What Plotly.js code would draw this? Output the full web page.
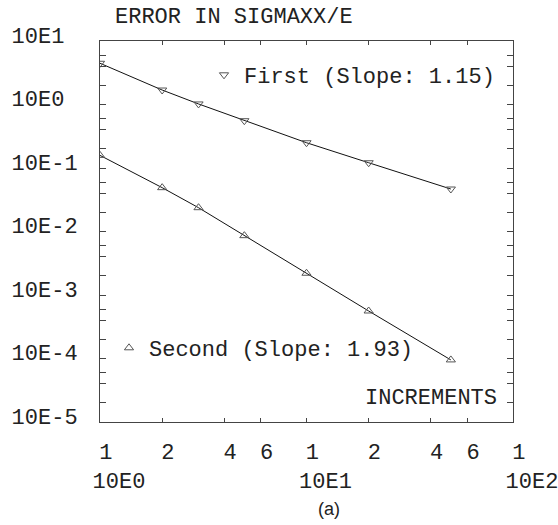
<!DOCTYPE html>
<html>
<head>
<meta charset="utf-8">
<script src="https://cdn.plot.ly/plotly-3.0.1.min.js"></script>
<style>html,body{margin:0;padding:0;background:#fff;}#chart{width:558px;height:525px;}</style>
</head>
<body>
<div id="chart"></div>
<script>
// ---- data ----
const increments = [1, 2, 3, 5, 10, 20, 50];
const firstError = [4.46, 1.69, 1.02, 0.556, 0.25, 0.121, 0.0467];
const secondError = [0.158, 0.049, 0.0237, 0.0086, 0.0022, 0.00056, 0.000095];
const firstName = 'First (Slope: 1.15)';
const secondName = 'Second (Slope: 1.93)';
const chartTitle = 'ERROR IN SIGMAXX/E';
const xLabelText = 'INCREMENTS';
const panelLabel = '(a)';

const xTickVals = [1, 2, 4, 6, 10, 20, 40, 60, 100];
const xTickText = ['1\u00A0\u00A0<br>10E0', '2\u00A0\u00A0', '4\u00A0\u00A0', '6\u00A0\u00A0',
                   '1\u00A0\u00A0<br>10E1', '2\u00A0\u00A0', '4\u00A0\u00A0', '6\u00A0\u00A0',
                   '1\u00A0\u00A0<br>10E2'];
const yTickVals = [1e-5, 2e-5, 4e-5, 6e-5, 1e-4, 2e-4, 4e-4, 6e-4, 1e-3, 2e-3, 4e-3, 6e-3,
                   1e-2, 2e-2, 4e-2, 6e-2, 1e-1, 2e-1, 4e-1, 6e-1, 1, 2, 4, 6, 10];
const yTickText = ['10E-5', '', '', '', '10E-4', '', '', '', '10E-3', '', '', '',
                   '10E-2', '', '', '', '10E-1', '', '', '', '10E0\u00A0', '', '', '', '10E1\u00A0'];

const MONO = 'Liberation Mono, Courier New, monospace';
const TXT = '#222';
const AX = '#444';

const traces = [
  {x: increments, y: firstError, mode: 'lines', line: {color: '#111', width: 1}, showlegend: false, hoverinfo: 'skip'},
  {x: increments, y: secondError, mode: 'lines', line: {color: '#111', width: 1}, showlegend: false, hoverinfo: 'skip'},
  {x: increments, y: firstError, mode: 'markers', name: firstName, legend: 'legend',
   marker: {symbol: 'triangle-down-open', size: 8, color: '#555', line: {width: 1}}},
  {x: increments, y: secondError, mode: 'markers', name: secondName, legend: 'legend2',
   marker: {symbol: 'triangle-up-open', size: 8, color: '#555', line: {width: 1}}}
];

const layout = {
  width: 558, height: 525,
  margin: {l: 100, r: 45, t: 41, b: 103},
  paper_bgcolor: '#fff', plot_bgcolor: '#fff',
  font: {family: MONO, size: 22, color: TXT},
  title: {text: chartTitle, font: {family: MONO, size: 22, color: TXT},
          xref: 'container', yref: 'container', x: 115 / 558, xanchor: 'left',
          y: 1 - 15 / 525, yanchor: 'middle'},
  xaxis: {type: 'log', range: [0, 2], tickmode: 'array', tickvals: xTickVals, ticktext: xTickText,
          tickangle: 0,
          ticks: 'inside', ticklen: 4, tickcolor: AX, tickwidth: 1,
          showline: true, linecolor: AX, linewidth: 1, mirror: 'ticks',
          showgrid: false, zeroline: false, ticklabeloverflow: 'allow',
          ticklabelstandoff: 10, ticklabelshift: 19,
          tickfont: {family: MONO, size: 22, color: TXT}},
  yaxis: {type: 'log', range: [-5, 1], tickmode: 'array', tickvals: yTickVals, ticktext: yTickText,
          ticks: 'inside', ticklen: 6, tickcolor: AX, tickwidth: 1,
          showline: true, linecolor: AX, linewidth: 1, mirror: 'ticks',
          showgrid: false, zeroline: false, ticklabeloverflow: 'allow',
          ticklabelstandoff: 17, ticklabelshift: -6,
          tickfont: {family: MONO, size: 22, color: TXT}},
  legend: {x: (204 - 100) / 413, xanchor: 'left', y: (422 - 75) / 381, yanchor: 'middle',
           bgcolor: 'rgba(0,0,0,0)', borderwidth: 0, font: {family: MONO, size: 22, color: TXT}},
  legend2: {x: (109 - 100) / 413, xanchor: 'left', y: (422 - 348) / 381, yanchor: 'middle',
            bgcolor: 'rgba(0,0,0,0)', borderwidth: 0, font: {family: MONO, size: 22, color: TXT}},
  annotations: [
    {text: xLabelText, xref: 'paper', yref: 'paper', x: 399 / 413, xanchor: 'right',
     y: (422 - 398.5) / 381, yanchor: 'middle', showarrow: false,
     font: {family: MONO, size: 22, color: TXT}},
    {text: panelLabel, xref: 'paper', yref: 'paper', x: (329 - 100) / 413, xanchor: 'center',
     y: (422 - 509) / 381, yanchor: 'middle', showarrow: false,
     font: {family: 'Liberation Sans, Arial, sans-serif', size: 18, color: TXT}}
  ]
};

Plotly.newPlot('chart', traces, layout, {staticPlot: true, displayModeBar: false});
</script>
</body>
</html>
